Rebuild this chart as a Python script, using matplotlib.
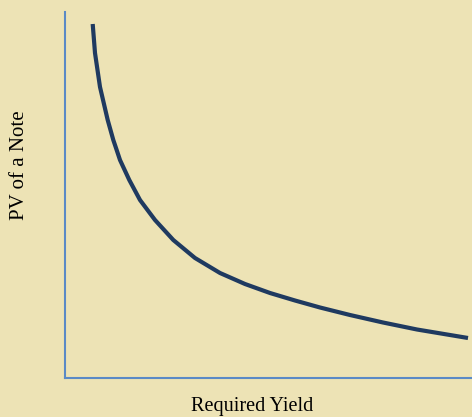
import matplotlib
matplotlib.use('Agg')
import matplotlib.pyplot as plt

# values (arbitrary units, no ticks shown)
yld = [27.7, 30, 35, 42.7, 48.3, 51, 55, 64.3, 75, 90, 108.3, 130, 155, 180, 205,
       230, 255, 285, 318, 352, 403]
pv = [354, 325, 291, 258, 238, 230, 218, 198, 178, 158, 138, 120, 105, 94, 85,
      77.5, 70.5, 63, 55.5, 48.5, 40]

bg = '#EDE3B5'
plt.rcParams['font.family'] = ['Liberation Serif', 'DejaVu Serif']

fig = plt.figure(figsize=(4.72, 4.17), dpi=100, facecolor=bg)
ax = fig.add_axes([65/472, 39/417, 407/472, 366/417], facecolor=bg)
ax.plot(yld, pv, color='#1F3A60', lw=3, solid_capstyle='butt', solid_joinstyle='round')
ax.set_xlim(0, 407)
ax.set_ylim(0, 366)
ax.set_xticks([])
ax.set_yticks([])
for s in ['top', 'right']:
    ax.spines[s].set_visible(False)
for s in ['left', 'bottom']:
    ax.spines[s].set_color('#5A8AC6')
    ax.spines[s].set_linewidth(1.5)

fig.text(252/472, 1 - 407/417, 'Required Yield', ha='center', va='center', fontsize=14.5)
fig.text(20/472, 1 - 165/417, 'PV of a Note', ha='center', va='center', rotation=90, fontsize=15)

fig.savefig('out.png', dpi=100, facecolor=bg)
